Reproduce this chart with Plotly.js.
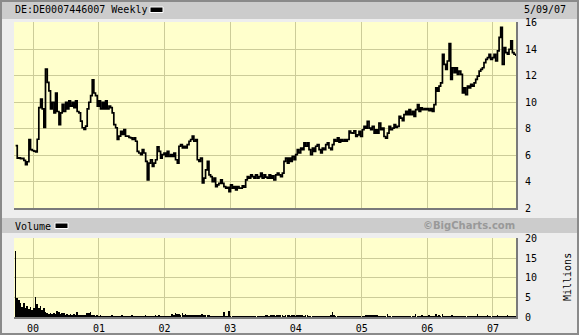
<!DOCTYPE html>
<html><head><meta charset="utf-8">
<script src="https://cdn.plot.ly/plotly-3.0.1.min.js"></script>
<style>html,body{margin:0;padding:0;background:#eeeeee;overflow:hidden}#chart{width:579px;height:335px}</style>
</head><body><div id="chart"></div>
<script>
// Weekly-ish closing prices (EUR), Sep 1999 - May 2007
const price1999to2002 = [6.72,5.78,5.8,5.73,5.75,5.6,5.27,5.5,7.18,6.42,6.35,6.3,6.25,7.2,9.6,10.23,9.5,8.1,12.5,11.5,
10.86,9.5,10,9.2,10.7,9.3,8.3,9.2,9.85,9.3,10,9.5,10.1,9.7,10,9.6,10.1,9.3,9.2,8.57,
8.07,7.94,8.2,9.5,10,10.5,11.7,10.7,10.5,9.7,10.1,9.5,10,9.5,10.1,9.5,9.7,9.6,9.2,8.3,
8.07,7.18,7.43,7.8,7.56,7.94,7.43,7.43,7.35,7.3,7.18,7.3,7.05,6.29,6.16,6.04,6.42,6.16,5.53,4.13,
5.4,5.65,5.15,5.4,5.65,6.62,6.29,5.78,6.04,6.16,5.9,6.29,5.9,6.04,5.9,6.16,5.65,5.4,6.67,6.8,6.55];
const price2002to2004 = [6.67,6.54,6.8,7.05,7.18,7.43,7.05,7.18,5.65,5.53,5.78,3.9,4.26,4.89,5.53,4.51,4.38,4.0,4.26,3.62,
3.75,3.87,4.13,3.87,3.62,3.5,3.57,3.24,3.75,3.5,3.62,3.37,3.62,3.5,3.5,3.67,3.57,4.13,4.38,4.26,
4.51,4.38,4.26,4.51,4.26,4.38,4.64,4.26,4.51,4.33,4.26,4.51,4.26,4.43,4.13,4.51,4.64,4.51,4.38,4.64,
5.53,5.78,5.4,5.78,5.53,5.91,5.65,6.04,6.42,6.16,6.54,6.42,6.92,6.67,6.92,6.42,6.04,6.54,6.29,6.67,
6.8,6.42,6.16,6.54,6.42,6.8,6.92,6.54,6.42,6.8,7.18,7.05,7.3,6.98,7.18,7.05,7.18,7.05,7.18,7.81,7.69];
const price2004to2007 = [7.66,7.84,7.41,7.53,7.79,7.41,7.92,8.17,8.04,8.55,8.04,7.92,8.17,7.66,7.92,7.66,8.42,7.92,8.04,7.41,
7.28,7.66,8.17,7.92,8.04,8.3,8.09,8.17,8.93,8.8,8.6,9.06,9.31,9.06,9.44,9.06,9.31,8.93,9.44,9.82,
9.31,9.57,9.44,9.52,9.44,9.52,9.36,9.52,9.31,9.82,11.09,10.84,11.22,11.47,13.63,12.87,12.49,13.12,14.44,11.73,
12.61,12.23,12.61,12.11,12.36,12.11,10.71,11.09,10.58,11.22,11.09,11.35,11.22,11.47,11.73,11.98,12.36,12.49,12.61,13.0,
13.25,13.38,13.63,13.25,13.38,13.63,13.12,13.89,14.9,15.66,12.87,14.14,13.76,13.63,14.01,14.65,13.76,13.63,13.5];
// Volume, millions of shares
const volumeMillions = [17,4.8,4.3,3.6,2.6,3.5,2.4,2.8,2.0,2.6,1.9,2.2,5.0,3.4,2.3,2.9,1.8,2.4,1.3,1.0,
0.8,1.0,0.7,0.9,0.8,1.5,1.2,0.8,1.1,0.9,0.6,0.7,0.6,0.8,0.6,0.7,0.5,1.3,0.6,0.5,
0.4,0.6,0.5,1.1,0.9,1.2,0.4,0.5,0.3,0.4,0.3,0.4,
0.3,0.2,0.3,0.2,0.3,0.3,0.6,0.3,0.2,0.3,0.2,0.3,0.5,0.3,0.2,0.3,0.2,0.3,0.5,0.3,
0.2,0.3,0.2,0.3,0.2,0.3,0.5,0.2,0.3,0.2,0.3,0.2,0.5,0.3,0.5,0.2,0.3,0.2,0.3,0.2,0.3,0.2,
0.8,0.6,0.9,0.7,0.8,0.5,0.9,0.6,0.7,0.5,0.4,
0.6,0.5,0.6,0.4,0.6,0.5,0.6,0.8,0.5,0.6,0.4,0.5,0.3,
0.3,0.2,0.3,0.3,0.2,0.3,0.2,1.2,0.3,0.2,1.5,0.3,
0.2,0.3,0.2,0.3,0.2,0.2,0.3,0.2,0.3,0.2,0.3,0.2,0.2,0.3,0.2,0.3,0.2,0.3,0.2,0.3,
0.4,0.5,0.3,0.4,0.5,0.4,0.3,0.5,0.4,0.4,0.5,0.3,0.4,0.5,0.4,0.3,0.5,0.4,0.3,0.4,0.5,0.4,
0.4,0.3,0.5,0.4,0.3,0.2,0.3,0.2,0.3,0.2,0.3,0.2,0.3,0.2,0.3,0.2,0.3,0.4,1.2,
0.4,0.3,0.2,0.3,0.2,0.3,0.2,0.3,0.2,0.3,0.2,0.3,0.2,0.3,0.2,0.3,0.2,0.3,0.3,
0.5,0.6,0.5,0.4,0.5,0.6,0.5,0.4,0.2,0.3,0.2,0.3,0.2,0.7,
0.2,0.3,0.2,0.3,0.2,0.3,0.2,0.3,0.2,0.3,0.2,0.3,0.2,0.3,0.2,0.3,0.7,
0.3,0.2,0.3,0.4,0.3,0.2,0.3,0.4,0.3,0.2,0.3,0.7,0.3,0.4,0.3,0.7,
0.3,0.2,0.3,0.2,0.3,0.4,0.3,0.2,0.3,0.2,0.3,0.2,0.3,0.2,0.3,0.2,0.3,0.2,0.3,0.2,0.7,
0.3,0.2,0.3,0.2,0.3,0.4,0.3,0.2,0.3,0.2,0.3,0.4,0.3,0.2,0.3,0.2,0.3,0.4,0.3,0.2,0.3,0.2,0.3];
const firstObservation = '1999-09-26';
const observationStepDays = 9.27;
const yearTickDates = ['2000-01-01','2001-01-01','2002-01-01','2003-01-01','2004-01-01','2005-01-01','2006-01-01','2007-01-01'];
const yearTickLabels = ['00','01','02','03','04','05','06','07'];
const priceTicks = [2,4,6,8,10,12,14,16];
const volumeTicks = [0,5,10,15,20];
const symbolName = 'DE:DE0007446007 Weekly';
const lastDateLabel = '5/09/07';

const prices = price1999to2002.concat(price2002to2004, price2004to2007);
const t0 = Date.parse(firstObservation + 'T00:00:00Z');
const dayMs = 86400000;
function obsDate(i){ return new Date(t0 + i*observationStepDays*dayMs).toISOString().slice(0,10); }
const priceDates = prices.map((_, i) => obsDate(i));
const volumeDates = volumeMillions.map((_, i) => obsDate(i));

const W = 579, H = 335;
const px = x => x / W, py = y => 1 - y / H;
const mono = 'DejaVu Sans Mono, monospace';
const grid = '#cccc99';

const traces = [
  {type:'scatter', mode:'lines', x: priceDates, y: prices, xaxis:'x', yaxis:'y',
   line:{color:'#000', width:1.7, shape:'hv'}, hoverinfo:'skip'},
  {type:'bar', x: volumeDates, y: volumeMillions, xaxis:'x2', yaxis:'y2',
   width: observationStepDays*dayMs, marker:{color:'#000', line:{width:0}}, hoverinfo:'skip'}
];

const xCommon = {type:'date', range:['1999-09-17','2007-05-09'], tickvals: yearTickDates, ticktext: yearTickLabels,
  showgrid:true, gridcolor:grid, gridwidth:1, zeroline:false, ticks:'', showline:true, linecolor:'#7a7a7a', linewidth:2,
  domain:[px(14), px(516)], fixedrange:true};
const layout = {
  width: W, height: H, margin:{l:0, r:0, t:0, b:0, pad:0},
  paper_bgcolor:'#eeeeee', plot_bgcolor:'#ffffcc', showlegend:false,
  font:{family: mono, size:10, color:'#000'},
  xaxis: Object.assign({}, xCommon, {anchor:'y', showticklabels:false}),
  xaxis2: Object.assign({}, xCommon, {anchor:'y2', matches:'x', showticklabels:true, ticklabelstandoff:1, tickfont:{family:mono, size:10}}),
  yaxis: {domain:[py(208), py(22)], range:[2, 16.07], side:'right', tickvals: priceTicks, ticktext: priceTicks.map(String),
    showgrid:true, gridcolor:grid, zeroline:false, ticks:'', showline:true, linecolor:'#7a7a7a', linewidth:2,
    ticklabelstandoff:5, tickfont:{family:mono, size:10}, anchor:'x', fixedrange:true},
  yaxis2: {domain:[py(317), py(238)], range:[0, 20.25], side:'right', tickvals: volumeTicks, ticktext: volumeTicks.map(String),
    showgrid:true, gridcolor:grid, zeroline:false, ticks:'', showline:true, linecolor:'#7a7a7a', linewidth:2,
    ticklabelstandoff:5, tickfont:{family:mono, size:10}, anchor:'x2', fixedrange:true},
  bargap: 0,
  shapes: [
    {type:'rect', xref:'paper', yref:'paper', x0:0, x1:1, y0:py(19), y1:1, fillcolor:'#cccccc', line:{width:0}, layer:'below'},
    {type:'rect', xref:'paper', yref:'paper', x0:0, x1:1, y0:py(233), y1:py(218), fillcolor:'#cccccc', line:{width:0}, layer:'below'},
    {type:'rect', xref:'paper', yref:'paper', x0:px(150), x1:px(163), y0:py(12.5), y1:py(7), fillcolor:'#000', line:{color:'#fff', width:1}},
    {type:'rect', xref:'paper', yref:'paper', x0:px(55), x1:px(68), y0:py(228.5), y1:py(223), fillcolor:'#000', line:{color:'#fff', width:1}},
    {type:'rect', xref:'paper', yref:'paper', x0:px(1), x1:px(578), y0:py(334), y1:py(1), fillcolor:'rgba(0,0,0,0)', line:{color:'#8a8a8a', width:2}}
  ],
  annotations: [
    {xref:'paper', yref:'paper', x:px(13), y:py(10), xanchor:'left', yanchor:'middle', showarrow:false, text:symbolName, font:{family:mono, size:10}},
    {xref:'paper', yref:'paper', x:px(522), y:py(9.5), xanchor:'left', yanchor:'middle', showarrow:false, text:lastDateLabel, font:{family:mono, size:10}},
    {xref:'paper', yref:'paper', x:px(13), y:py(226), xanchor:'left', yanchor:'middle', showarrow:false, text:'Volume', font:{family:mono, size:10}},
    {xref:'paper', yref:'paper', x:px(517), y:py(225.5), xanchor:'right', yanchor:'middle', showarrow:false, text:'©BigCharts.com', font:{family:'DejaVu Sans, sans-serif', size:10, color:'#999999', weight:'bold'}},
    {xref:'paper', yref:'paper', x:px(567), y:py(277), xanchor:'center', yanchor:'middle', showarrow:false, textangle:-90, text:'Millions', font:{family:mono, size:10}}
  ]
};
Plotly.newPlot('chart', traces, layout, {staticPlot:true, displayModeBar:false});
</script></body></html>
